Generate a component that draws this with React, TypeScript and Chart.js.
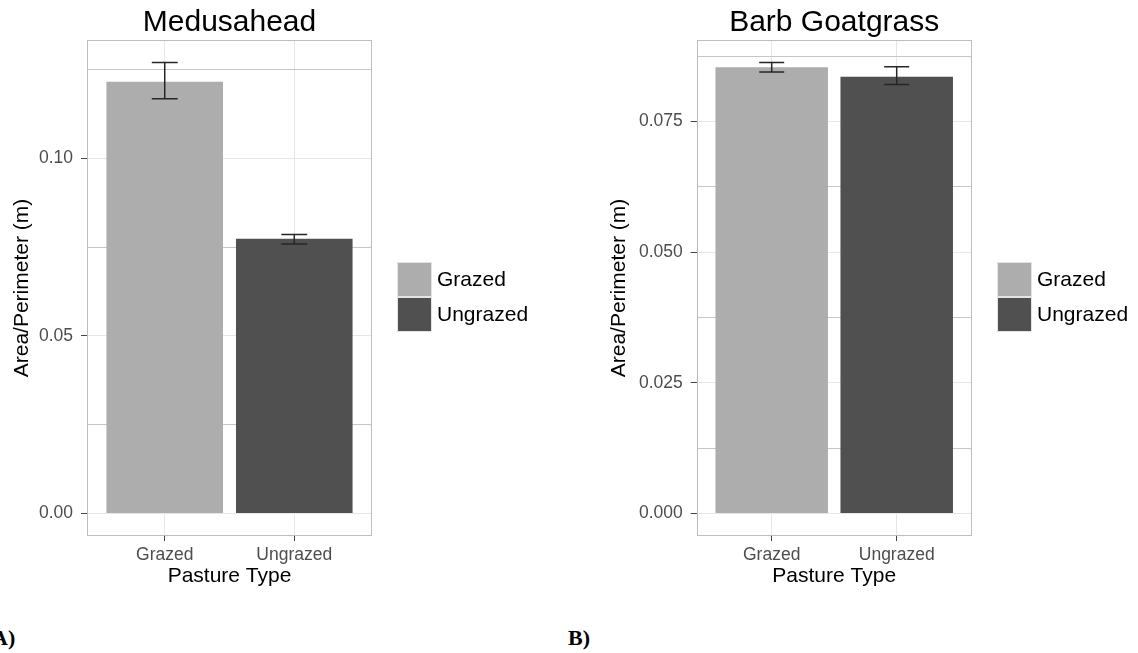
import React, { useEffect, useRef } from 'react';
import { Chart, registerables } from 'chart.js';

Chart.register(...registerables);

// ---------- data ----------
const categories = ['Grazed', 'Ungrazed'];
const barColors = ['#adadad', '#505050'];

const medusaTitle = 'Medusahead';
const medusaMeans = [0.1216, 0.0774];
const medusaLow = [0.1168, 0.0759];
const medusaHigh = [0.127, 0.0786];
const medusaMajorTicks = [0, 0.05, 0.1];
const medusaTickLabels = ['0.00', '0.05', '0.10'];
const medusaMinorTicks = [0.025, 0.075, 0.125];

const goatTitle = 'Barb Goatgrass';
const goatMeans = [0.0854, 0.0836];
const goatLow = [0.0845, 0.0821];
const goatHigh = [0.0863, 0.0855];
const goatMajorTicks = [0, 0.025, 0.05, 0.075];
const goatTickLabels = ['0.000', '0.025', '0.050', '0.075'];
const goatMinorTicks = [0.0125, 0.0375, 0.0625, 0.0875];

const xAxisTitle = 'Pasture Type';
const yAxisTitle = 'Area/Perimeter (m)';

// ---------- styling ----------
const FONT = "'Liberation Sans', Arial, Helvetica, sans-serif";
const MAJOR_GRID = '#e6e6e6';
const MINOR_GRID = '#c6c6c6';
const BORDER = '#bdbdbd';
const TICK_TEXT = '#4d4d4d';

const near = (a: number, b: number) => Math.abs(a - b) < 1e-9;

const errorBarPlugin = {
  id: 'errorBars',
  afterDatasetsDraw(chart: any) {
    const { ctx, scales } = chart;
    const x = scales.x;
    const y = scales.y;
    ctx.save();
    ctx.strokeStyle = '#262626';
    ctx.lineWidth = 1.5;
    chart.data.datasets.forEach((ds: any) => {
      const pt = ds.data[0];
      const cx = x.getPixelForValue(pt.x);
      const half = x.getPixelForValue(pt.x + 0.1) - cx;
      const yl = y.getPixelForValue(ds.errLow);
      const yh = y.getPixelForValue(ds.errHigh);
      ctx.beginPath();
      ctx.moveTo(cx, yl);
      ctx.lineTo(cx, yh);
      ctx.moveTo(cx - half, yl);
      ctx.lineTo(cx + half, yl);
      ctx.moveTo(cx - half, yh);
      ctx.lineTo(cx + half, yh);
      ctx.stroke();
    });
    ctx.restore();
  },
};

const panelDecorPlugin = {
  id: 'panelDecor',
  afterDraw(chart: any) {
    const { ctx, chartArea } = chart;
    ctx.save();
    // panel border
    ctx.strokeStyle = BORDER;
    ctx.lineWidth = 1;
    ctx.strokeRect(
      Math.round(chartArea.left) + 0.5,
      Math.round(chartArea.top) + 0.5,
      Math.round(chartArea.right - chartArea.left) - 1,
      Math.round(chartArea.bottom - chartArea.top) - 1
    );
    // legend
    const x0 = Math.round(chartArea.right + 25);
    const y0 = Math.round(chartArea.top + 222);
    const key = 35;
    ctx.font = `21px ${FONT}`;
    ctx.textBaseline = 'middle';
    ctx.textAlign = 'left';
    chart.data.datasets.forEach((ds: any, i: number) => {
      const ky = y0 + i * key;
      ctx.fillStyle = ds.backgroundColor;
      ctx.fillRect(x0, ky, key, key);
      ctx.strokeStyle = '#e4e4e4';
      ctx.strokeRect(x0 + 0.5, ky + 0.5, key - 1, key - 1);
      ctx.fillStyle = '#000';
      ctx.fillText(ds.label, x0 + key + 5, ky + key / 2 + 1);
    });
    ctx.restore();
  },
};

type PanelProps = {
  title: string;
  means: number[];
  low: number[];
  high: number[];
  majorTicks: number[];
  tickLabels: string[];
  minorTicks: number[];
  left: number;
  width: number;
  yWidth: number;
  padRight: number;
  yTitlePad: number;
};

function Panel(p: PanelProps) {
  const ref = useRef<HTMLCanvasElement>(null);
  useEffect(() => {
    if (!ref.current) return;
    const dataMax = Math.max(...p.high, ...p.means);
    const dataMin = Math.min(0, ...p.low);
    const span = dataMax - dataMin;
    const yMin = dataMin - span * 0.05;
    const yMax = dataMax + span * 0.05;
    const isMinor = (v: number) => p.minorTicks.some((m) => near(m, v));
    const allTicks = [...p.majorTicks, ...p.minorTicks].sort((a, b) => a - b);

    const chart = new Chart(ref.current, {
      type: 'bar',
      data: {
        datasets: categories.map((c, i) => ({
          label: c,
          data: [{ x: i + 1, y: p.means[i] }],
          backgroundColor: barColors[i],
          borderWidth: 0,
          grouped: false,
          barPercentage: 0.9,
          categoryPercentage: 1,
          errLow: p.low[i],
          errHigh: p.high[i],
        })) as any,
      },
      options: {
        animation: false,
        responsive: false,
        maintainAspectRatio: false,
        devicePixelRatio: 1,
        layout: { padding: { left: 0, right: p.padRight, top: 0, bottom: 11.4 } },
        plugins: {
          legend: { display: false },
          tooltip: { enabled: false },
          title: {
            display: true,
            text: p.title,
            fullSize: false,
            color: '#000',
            font: { family: FONT, size: 30, weight: 'normal', lineHeight: 1 },
            padding: { top: 8, bottom: 2 },
          },
        },
        scales: {
          x: {
            type: 'linear',
            min: 0.4,
            max: 2.6,
            offset: false,
            afterBuildTicks: (s: any) => {
              s.ticks = categories.map((_, i) => ({ value: i + 1 }));
            },
            afterFit: (s: any) => {
              s.height = 52.6;
            },
            ticks: {
              autoSkip: false,
              maxRotation: 0,
              padding: 3.5,
              color: TICK_TEXT,
              font: { family: FONT, size: 17.5 },
              callback: (v: any) => categories[Math.round(Number(v)) - 1] ?? '',
            },
            grid: { offset: false, color: MAJOR_GRID, tickColor: '#444', tickLength: 5, lineWidth: 1 },
            border: { display: false },
            title: {
              display: true,
              text: xAxisTitle,
              color: '#000',
              font: { family: FONT, size: 21 },
              padding: { top: 0, bottom: 0 },
            },
          },
          y: {
            type: 'linear',
            min: yMin,
            max: yMax,
            afterBuildTicks: (s: any) => {
              s.ticks = allTicks.map((v) => ({ value: v }));
            },
            afterFit: (s: any) => {
              s.width = p.yWidth;
            },
            ticks: {
              autoSkip: false,
              padding: 8,
              color: TICK_TEXT,
              font: { family: FONT, size: 17.5 },
              callback: (v: any) => {
                const i = p.majorTicks.findIndex((m) => near(m, Number(v)));
                return i >= 0 ? p.tickLabels[i] : '';
              },
            },
            grid: {
              color: (c: any) => (c.tick && isMinor(c.tick.value) ? MINOR_GRID : MAJOR_GRID),
              tickColor: (c: any) => (c.tick && isMinor(c.tick.value) ? 'rgba(0,0,0,0)' : '#444'),
              tickLength: 6,
              lineWidth: 1,
            },
            border: { display: false },
            title: {
              display: true,
              text: yAxisTitle,
              color: '#000',
              font: { family: FONT, size: 21 },
              padding: { top: p.yTitlePad, bottom: 0 },
            },
          },
        },
      } as any,
      plugins: [errorBarPlugin, panelDecorPlugin],
    });
    return () => chart.destroy();
  }, []);
  return (
    <canvas
      ref={ref}
      width={p.width}
      height={600}
      style={{ position: 'absolute', left: p.left, top: 0, width: p.width, height: 600 }}
    />
  );
}

const labelStyle: React.CSSProperties = {
  position: 'absolute',
  top: 627,
  font: "bold 22px 'Liberation Serif', 'Times New Roman', serif",
  lineHeight: '22px',
  color: '#000',
  whiteSpace: 'nowrap',
};

export default function App() {
  return (
    <div
      style={{
        position: 'absolute',
        left: 0,
        top: 0,
        width: 1138,
        height: 653,
        overflow: 'hidden',
        background: '#fff',
      }}
    >
      <Panel
        title={medusaTitle}
        means={medusaMeans}
        low={medusaLow}
        high={medusaHigh}
        majorTicks={medusaMajorTicks}
        tickLabels={medusaTickLabels}
        minorTicks={medusaMinorTicks}
        left={0}
        width={570}
        yWidth={87}
        padRight={198}
        yTitlePad={10}
      />
      <Panel
        title={goatTitle}
        means={goatMeans}
        low={goatLow}
        high={goatHigh}
        majorTicks={goatMajorTicks}
        tickLabels={goatTickLabels}
        minorTicks={goatMinorTicks}
        left={570}
        width={568}
        yWidth={126.7}
        padRight={166.3}
        yTitlePad={37}
      />
      <div style={{ ...labelStyle, left: -8 }}>A)</div>
      <div style={{ ...labelStyle, left: 568 }}>B)</div>
    </div>
  );
}
